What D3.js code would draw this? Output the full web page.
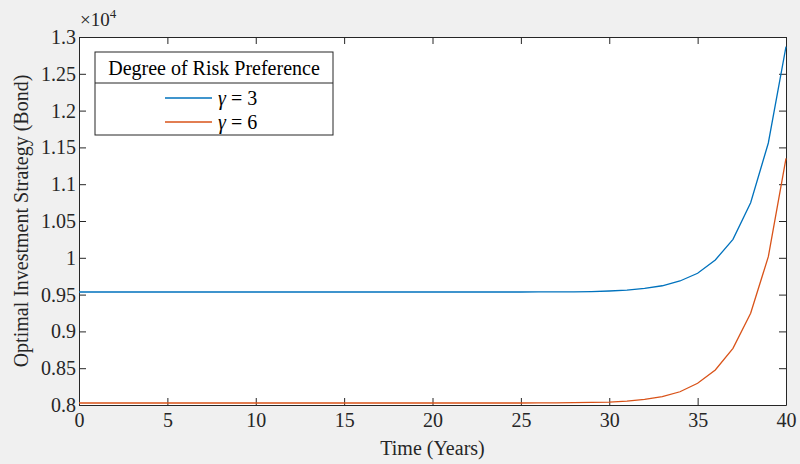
<!DOCTYPE html>
<html>
<head>
<meta charset="utf-8">
<script src="https://cdn.jsdelivr.net/npm/d3@7"></script>
<style>
body { margin: 0; background: #f0f0f0; }
svg { display: block; font-family: "Liberation Serif", "Times New Roman", serif; }
</style>
</head>
<body>
<script>
var years = [0,1,2,3,4,5,6,7,8,9,10,11,12,13,14,15,16,17,18,19,20,21,22,23,24,25,26,27,28,29,30,31,32,33,34,35,36,37,38,39,40];
var gamma3 = [9535,9535,9535,9535,9535,9535,9535,9535,9535,9535,9535,9535,9535,9535,9535,9535,9535,9535,9535,9535,9535,9535,9535,9535,9535,9535,9536,9536,9537,9541,9549,9562,9585,9620,9685,9790,9970,10251,10749,11560,12868];
var gamma6 = [8027,8027,8027,8027,8027,8027,8027,8027,8027,8027,8027,8027,8027,8027,8027,8027,8027,8027,8027,8027,8027,8027,8027,8027,8027,8027,8028,8029,8031,8035,8040,8054,8077,8113,8180,8295,8476,8770,9246,10015,11350];
var xTicks = [0,5,10,15,20,25,30,35,40];
var yTicks = [0.8,0.85,0.9,0.95,1,1.05,1.1,1.15,1.2,1.25,1.3];
var seriesValues = ["3", "6"];
var colors = ["#0072BD", "#D95319"];

var width = 800, height = 464;
var margin = {left: 79, right: 14, top: 37, bottom: 59};
var pw = width - margin.left - margin.right,
    ph = height - margin.top - margin.bottom;

var svg = d3.select("body").append("svg")
    .attr("width", width)
    .attr("height", height);

svg.append("rect").attr("width", width).attr("height", height).attr("fill", "#f0f0f0");

var g = svg.append("g")
    .attr("transform", "translate(" + margin.left + "," + margin.top + ")");

var x = d3.scaleLinear().domain([0, 40]).range([0, pw]);
var y = d3.scaleLinear().domain([0.8, 1.3]).range([ph, 0]);

g.append("rect").attr("width", pw).attr("height", ph).attr("fill", "#fff");

var fmt = function (d) { return d3.format("~g")(+d.toFixed(2)); };

var xAxis = g.append("g").attr("transform", "translate(0," + ph + ")")
    .call(d3.axisBottom(x).tickValues(xTicks).tickSizeInner(-7).tickSizeOuter(0).tickPadding(10));
var xTop = g.append("g")
    .call(d3.axisTop(x).tickValues(xTicks).tickSizeInner(-7).tickSizeOuter(0).tickFormat(""));
var yAxis = g.append("g")
    .call(d3.axisLeft(y).tickValues(yTicks).tickSizeInner(-7).tickSizeOuter(0).tickPadding(3).tickFormat(fmt));
var yRight = g.append("g").attr("transform", "translate(" + pw + ",0)")
    .call(d3.axisRight(y).tickValues(yTicks).tickSizeInner(-7).tickSizeOuter(0).tickFormat(""));

[xAxis, xTop, yAxis, yRight].forEach(function (a) {
    a.attr("font-family", "Liberation Serif").attr("font-size", 20);
    a.selectAll("path").attr("stroke", "#262626");
    a.selectAll("line").attr("stroke", "#262626");
    a.selectAll("text").attr("fill", "#262626");
});
xAxis.selectAll("text").attr("dy", "0.6em");

var line = d3.line()
    .x(function (d, i) { return x(years[i]); })
    .y(function (d) { return y(d / 10000); });

[gamma3, gamma6].forEach(function (s, k) {
    g.append("path")
        .datum(s)
        .attr("fill", "none")
        .attr("stroke", colors[k])
        .attr("stroke-width", 1.3)
        .attr("d", line);
});

// exponent label
var ex = svg.append("text").attr("x", margin.left + 1).attr("y", 26)
    .attr("fill", "#262626").style("font-size", "19px");
ex.append("tspan").text("\u00d710");
ex.append("tspan").attr("dy", -8).style("font-size", "13px").text("4");

// axis titles
svg.append("text")
    .attr("x", margin.left + pw / 2).attr("y", 455)
    .attr("text-anchor", "middle").attr("fill", "#262626")
    .style("font-size", "20px").text("Time (Years)");
svg.append("text")
    .attr("transform", "translate(28," + (margin.top + ph / 2) + ") rotate(-90)")
    .attr("text-anchor", "middle").attr("fill", "#262626")
    .style("font-size", "20px").text("Optimal Investment Strategy (Bond)");

// legend
var lg = svg.append("g").attr("transform", "translate(95,52)");
lg.append("rect").attr("width", 238).attr("height", 83)
    .attr("fill", "#fff").attr("stroke", "#262626").attr("stroke-width", 1);
lg.append("line").attr("x1", 0).attr("x2", 238).attr("y1", 31).attr("y2", 31)
    .attr("stroke", "#262626");
lg.append("text").attr("x", 119).attr("y", 23).attr("text-anchor", "middle")
    .attr("fill", "#000").style("font-size", "20px").text("Degree of Risk Preference");
seriesValues.forEach(function (n, k) {
    var yy = 46 + k * 24;
    lg.append("line").attr("x1", 70).attr("x2", 117).attr("y1", yy).attr("y2", yy)
        .attr("stroke", colors[k]).attr("stroke-width", 1.3);
    var t = lg.append("text").attr("x", 123).attr("y", yy + 7)
        .attr("fill", "#000").style("font-size", "20px");
    t.append("tspan").style("font-style", "italic").text("\u03b3");
    t.append("tspan").text(" = " + n);
});
</script>
</body>
</html>
